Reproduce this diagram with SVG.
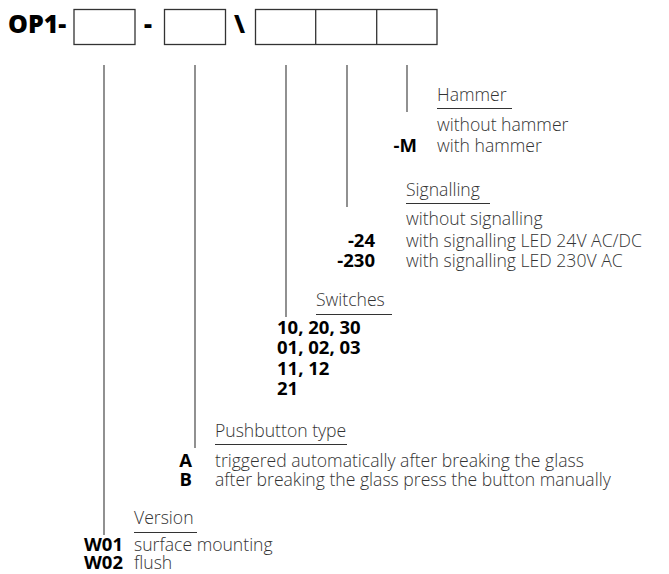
<svg xmlns="http://www.w3.org/2000/svg" width="669" height="574" viewBox="0 0 669 574">
<style>
.t{font-family:"Open Sans","Noto Sans",sans-serif;font-size:17.6px;fill:#333;font-weight:300}
.b{font-family:"Open Sans","Noto Sans",sans-serif;font-size:18.5px;fill:#000;font-weight:700}
.h{font-family:"Open Sans","Noto Sans",sans-serif;font-size:25px;fill:#000;font-weight:800}
.r{text-anchor:end}
.ul{stroke:#333;stroke-width:1}
.box{fill:#fff;stroke:#333;stroke-width:1.3}
.ln{stroke:#555;stroke-width:1.3;fill:none}
</style>
<rect width="669" height="574" fill="#fff"/>
<g id="header">
<text class="h" x="8" y="33">OP1-</text>
<rect class="box" x="74" y="9.5" width="61" height="35"/>
<text class="h" x="144" y="33">-</text>
<rect class="box" x="164.5" y="9.5" width="61" height="35"/>
<text class="h" x="234" y="33">\</text>
<rect class="box" x="255.5" y="9.5" width="181.5" height="35"/>
<line class="box" x1="315.7" y1="9.5" x2="315.7" y2="44.5"/>
<line class="box" x1="376.7" y1="9.5" x2="376.7" y2="44.5"/>
</g>
<g id="connectors">
<line class="ln" x1="104" y1="65" x2="104" y2="535" stroke="#333"/>
<line class="ln" x1="195" y1="65" x2="195" y2="448" stroke="#777"/>
<line class="ln" x1="286" y1="65" x2="286" y2="317"/>
<line class="ln" x1="347" y1="65" x2="347" y2="207"/>
<line class="ln" x1="407" y1="65" x2="407" y2="112"/>
</g>
<g id="hammer">
<text class="t" x="437" y="101">Hammer</text>
<line class="ul" x1="437" y1="108.5" x2="512" y2="108.5"/>
<text class="t" x="437" y="131">without hammer</text>
<text class="b r" x="417" y="152">-M</text>
<text class="t" x="437" y="152">with hammer</text>
</g>
<g id="signalling">
<text class="t" x="406" y="196">Signalling</text>
<line class="ul" x1="406" y1="203.5" x2="490" y2="203.5"/>
<text class="t" x="406" y="225">without signalling</text>
<text class="b r" x="375" y="247">-24</text>
<text class="t" x="406" y="247">with signalling LED 24V AC/DC</text>
<text class="b r" x="375" y="267">-230</text>
<text class="t" x="406" y="267">with signalling LED 230V AC</text>
</g>
<g id="switches">
<text class="t" x="316" y="306">Switches</text>
<line class="ul" x1="316" y1="314.5" x2="392" y2="314.5"/>
<text class="b" x="277" y="334">10, 20, 30</text>
<text class="b" x="277" y="354">01, 02, 03</text>
<text class="b" x="277" y="375">11, 12</text>
<text class="b" x="277" y="395">21</text>
</g>
<g id="pushbutton">
<text class="t" x="215" y="437">Pushbutton type</text>
<line class="ul" x1="215" y1="444.5" x2="347" y2="444.5"/>
<text class="b r" x="192" y="467">A</text>
<text class="t" x="215" y="467">triggered automatically after breaking the glass</text>
<text class="b r" x="192" y="486">B</text>
<text class="t" x="215" y="486">after breaking the glass press the button manually</text>
</g>
<g id="version">
<text class="t" x="134" y="524">Version</text>
<line class="ul" x1="134" y1="532.5" x2="197" y2="532.5"/>
<text class="b r" x="123" y="551">W01</text>
<text class="t" x="134" y="551">surface mounting</text>
<text class="b r" x="123" y="569">W02</text>
<text class="t" x="134" y="569">flush</text>
</g>
</svg>
